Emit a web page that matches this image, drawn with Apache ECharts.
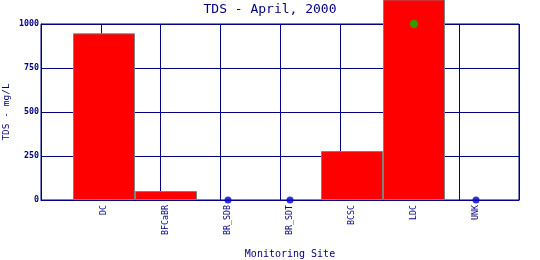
<!DOCTYPE html>
<html><head><meta charset="utf-8">
<script src="https://cdn.jsdelivr.net/npm/echarts@6/dist/echarts.min.js"></script>
<style>html,body{margin:0;padding:0;background:#fff}#c{width:540px;height:260px}</style>
</head><body><div id="c"></div>
<script>
const categories = ['DC','BFCaBR','BR_SDB','BR_SDT','BCSC','LDC','UNK'];
const tdsValues = [947, 51, null, null, 278, 1140, null];
const nonDetect = [null, null, 0, 0, null, null, 0];
const standardMark = [null, null, null, null, null, 1000, null];
const yTicks = [0, 250, 500, 750, 1000];

const navy = '#000080';
const mono = 'DejaVu Sans Mono';
const chart = echarts.init(document.getElementById('c'), null, {renderer:'canvas'});
chart.setOption({
  animation: false,
  backgroundColor: '#fff',
  title: {text: 'TDS - April, 2000', left: 'center', top: -2,
    textStyle: {fontFamily: mono, fontSize: 13, fontWeight: 'normal', color: navy}},
  grid: [
    {left: 41, top: 24, width: 478, height: 176, show: true, borderColor: navy, borderWidth: 1, z: 0,
      containLabel: false, outerBoundsMode: 'none'},
    {left: 73, top: 24, width: 434, height: 176, containLabel: false, outerBoundsMode: 'none'}
  ],
  xAxis: [
    {gridIndex: 0, type: 'value', min: 0, max: 8, interval: 1,
      axisLine: {show: true, lineStyle: {color: navy, width: 1}},
      axisTick: {show: false}, axisLabel: {show: false},
      splitLine: {show: true, lineStyle: {color: navy, width: 1}}},
    {gridIndex: 1, type: 'category', data: categories, boundaryGap: true,
      axisLine: {show: false}, axisTick: {show: false},
      axisLabel: {rotate: 90, margin: 5, interval: 0, fontFamily: mono, fontSize: 8.3, color: navy},
      name: 'Monitoring Site', nameLocation: 'middle', nameGap: 49, nameMoveOverlap: false,
      nameTextStyle: {fontFamily: mono, fontSize: 10, color: navy}}
  ],
  yAxis: [
    {gridIndex: 0, type: 'value', min: 0, max: 1000, interval: 250,
      axisLine: {show: true, lineStyle: {color: navy, width: 1}},
      axisTick: {show: false},
      axisLabel: {margin: 2, fontFamily: mono, fontSize: 8.3, fontWeight: 'bold', color: navy,
        formatter: v => yTicks.includes(v) ? String(v) : ''},
      splitLine: {show: true, lineStyle: {color: navy, width: 1}},
      name: 'TDS - mg/L', nameLocation: 'middle', nameGap: 29, nameMoveOverlap: false,
      nameTextStyle: {fontFamily: mono, fontSize: 9.5, color: navy}},
    {gridIndex: 1, type: 'value', min: 0, max: 1000, show: false}
  ],
  series: [
    {type: 'bar', xAxisIndex: 1, yAxisIndex: 1, data: tdsValues, barWidth: '100%', clip: false,
      itemStyle: {color: '#ff0000', borderColor: '#808080', borderWidth: 1}, z: 3},
    {type: 'scatter', xAxisIndex: 1, yAxisIndex: 1, data: nonDetect, symbol: 'circle', symbolSize: 7, clip: false,
      itemStyle: {color: '#0000cc'}, z: 5},
    {type: 'scatter', xAxisIndex: 1, yAxisIndex: 1, data: standardMark, symbol: 'circle', symbolSize: 8, clip: false,
      itemStyle: {color: '#00c000'}, z: 5}
  ]
});
</script></body></html>
